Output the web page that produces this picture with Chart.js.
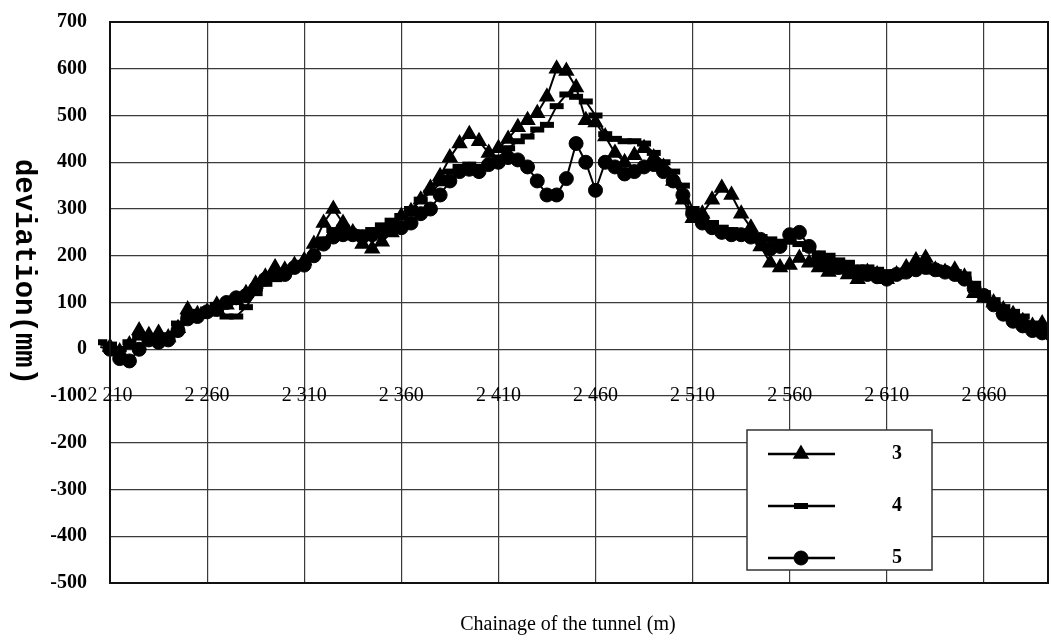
<!DOCTYPE html>
<html>
<head>
<meta charset="utf-8">
<script src="https://cdn.jsdelivr.net/npm/chart.js@4.4.1/dist/chart.umd.min.js"></script>
<style>
  html, body { margin: 0; padding: 0; background: #fff; }
  #wrap { width: 1051px; height: 642px; position: relative; }
</style>
</head>
<body>
<div id="wrap"><canvas id="deviation-chart"></canvas></div>
<script>
// Chainage (m) of each measured point
const chainage = [2205,2210,2215,2220,2225,2230,2235,2240,2245,2250,
  2255,2260,2265,2270,2275,2280,2285,2290,2295,2300,
  2305,2310,2315,2320,2325,2330,2335,2340,2345,2350,
  2355,2360,2365,2370,2375,2380,2385,2390,2395,2400,
  2405,2410,2415,2420,2425,2430,2435,2440,2445,2450,
  2455,2460,2465,2470,2475,2480,2485,2490,2495,2500,
  2505,2510,2515,2520,2525,2530,2535,2540,2545,2550,
  2555,2560,2565,2570,2575,2580,2585,2590,2595,2600,
  2605,2610,2615,2620,2625,2630,2635,2640,2645,2650,
  2655,2660,2665,2670,2675,2680,2685,2690,2695];

// Deviation (mm) per survey line
const line3 = [10,5,-5,10,40,30,35,25,45,85,
  75,80,95,95,105,120,140,155,175,170,
  180,190,225,270,300,270,250,225,215,230,
  250,285,295,320,345,370,410,440,460,445,
  420,430,450,475,490,505,540,600,595,560,
  490,485,455,420,400,415,430,410,390,360,
  320,280,290,320,345,330,290,260,220,185,
  175,180,195,185,175,165,170,160,150,165,
  160,150,160,175,190,195,170,165,170,155,
  120,110,100,85,75,60,50,55,45];

const line4 = [15,10,0,15,25,20,25,30,55,70,
  80,85,95,70,70,90,120,140,150,165,
  175,185,200,235,255,260,250,250,255,265,
  275,285,300,320,335,355,380,390,395,390,
  395,410,430,445,455,470,480,520,545,540,
  530,500,460,450,445,445,440,420,400,380,
  350,300,280,270,260,255,250,245,240,235,
  230,230,225,215,205,200,190,185,175,175,
  170,165,165,165,170,170,175,170,165,160,
  140,120,105,90,80,70,55,45,40];

const line5 = [5,0,-20,-25,0,20,15,20,40,65,
  70,80,85,100,110,115,130,150,160,160,
  175,180,200,225,240,245,245,240,245,250,
  260,260,270,290,300,330,360,380,385,380,
  395,400,410,405,390,360,330,330,365,440,
  400,340,400,390,375,380,390,395,380,360,
  330,290,270,260,250,245,245,240,235,215,
  220,245,250,220,195,185,175,170,165,160,
  155,150,160,165,170,175,170,165,160,150,
  130,115,95,75,60,50,40,35,30];

// Axis ticks
const xTicks = [2210,2260,2310,2360,2410,2460,2510,2560,2610,2660];
const xTickLabels = ["2 210","2 260","2 310","2 360","2 410","2 460","2 510","2 560","2 610","2 660"];
const seriesNames = ["3", "4", "5"];

const toPoints = (vals) => chainage.map((c, i) => ({ x: c, y: vals[i] }));

// Draws frame, in-plot x labels, axis titles and the boxed legend
const overlay = {
    id: "overlay",
    afterDraw(chart) {
        const { ctx, chartArea: a, scales: { x, y } } = chart;
        ctx.save();

        ctx.strokeStyle = "#111";
        ctx.lineWidth = 2;
        ctx.strokeRect(a.left, a.top, a.right - a.left, a.bottom - a.top);

        // x labels sit on the -100 grid line
        ctx.fillStyle = "#000";
        ctx.font = '20px "Liberation Serif"';
        ctx.textAlign = "center";
        ctx.textBaseline = "middle";
        const labelY = y.getPixelForValue(-100);
        xTicks.forEach((v, i) => ctx.fillText(xTickLabels[i], x.getPixelForValue(v), labelY));

        // x title
        ctx.font = '20px "Liberation Serif"';
        ctx.fillText("Chainage of the tunnel (m)", 568, 625);

        // y title, reading top to bottom
        ctx.save();
        ctx.translate(23, 272);
        ctx.rotate(Math.PI / 2);
        ctx.font = 'bold 29px "Liberation Mono"';
        ctx.fillText("deviation(mm)", 0, 0);
        ctx.restore();

        // legend box
        const bx = 747, by = 430, bw = 185, bh = 140;
        ctx.fillStyle = "#fff";
        ctx.fillRect(bx, by, bw, bh);
        ctx.strokeStyle = "#333";
        ctx.lineWidth = 1.5;
        ctx.strokeRect(bx, by, bw, bh);

        ctx.font = 'bold 20px "Liberation Serif"';
        chart.data.datasets.forEach((ds, i) => {
            const ry = by + 24 + i * 52;
            ctx.strokeStyle = "#000";
            ctx.fillStyle = "#000";
            ctx.lineWidth = 2.5;
            ctx.beginPath();
            ctx.moveTo(bx + 21, ry);
            ctx.lineTo(bx + 88, ry);
            ctx.stroke();
            ctx.lineWidth = ds.pointBorderWidth;
            Chart.helpers.drawPoint(ctx, {
                pointStyle: ds.pointStyle,
                radius: ds.pointRadius,
                borderWidth: ds.pointBorderWidth,
                rotation: 0
            }, bx + 54, ry);
            ctx.fillText(ds.label, bx + 150, ry);
        });

        ctx.restore();
    }
};

const baseSet = {
    borderColor: "#000",
    backgroundColor: "#000",
    pointBackgroundColor: "#000",
    pointBorderColor: "#000",
    borderWidth: 2,
    tension: 0,
    clip: { left: 12, top: 10, right: 0, bottom: 10 }
};

new Chart(document.getElementById("deviation-chart"), {
    type: "line",
    data: {
        datasets: [
            { ...baseSet, label: seriesNames[0], data: toPoints(line3), pointStyle: "triangle", pointRadius: 8, pointBorderWidth: 1.5 },
            { ...baseSet, label: seriesNames[1], data: toPoints(line4), pointStyle: "line", pointRadius: 7, pointBorderWidth: 6 },
            { ...baseSet, label: seriesNames[2], data: toPoints(line5), pointStyle: "circle", pointRadius: 7, pointBorderWidth: 1 }
        ]
    },
    options: {
        responsive: true,
        maintainAspectRatio: false,
        animation: false,
        layout: { autoPadding: false, padding: { top: 22, right: 3, left: 0, bottom: 0 } },
        plugins: {
            legend: { display: false },
            tooltip: { enabled: false }
        },
        scales: {
            x: {
                type: "linear",
                min: 2210,
                max: 2693,
                afterBuildTicks: (s) => { s.ticks = xTicks.map(v => ({ value: v })); },
                afterFit: (s) => {
                    s.height = 59;
                    s.paddingLeft = 0;
                    s.paddingRight = 0;
                },
                ticks: { display: false },
                grid: { color: "#3a3a3a", lineWidth: 1.2, drawTicks: false },
                border: { display: false }
            },
            y: {
                min: -500,
                max: 700,
                afterFit: (s) => {
                    s.width = 110;
                    s.paddingTop = 0;
                    s.paddingBottom = 0;
                },
                ticks: {
                    stepSize: 100,
                    padding: 23,
                    color: "#000",
                    font: { family: "Liberation Serif", size: 20, weight: "bold" }
                },
                grid: { color: "#3a3a3a", lineWidth: 1.2, drawTicks: false },
                border: { display: false }
            }
        }
    },
    plugins: [overlay]
});
</script>
</body>
</html>
